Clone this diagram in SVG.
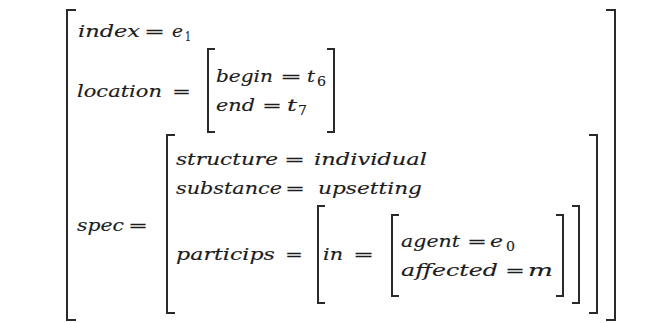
<svg xmlns="http://www.w3.org/2000/svg" width="667" height="323" viewBox="0 0 667 323">
<style>
text{font-family:"DejaVu Serif","Liberation Serif",serif;fill:#1c1c1c;stroke:#1c1c1c;stroke-width:0.15}
.t{font-size:17.5px;font-style:italic}
.o{font-size:17.5px}
.s{font-size:12px}
.b{fill:none;stroke:#2a2a2a;stroke-width:2}
</style>
<rect width="667" height="323" fill="#fff"/>
<g id="brackets">
<path class="b" d="M76 10H67V320H76"/>
<path class="b" d="M606 10H615V320H606"/>
<path class="b" d="M215 49H208V132H215"/>
<path class="b" d="M327 49H334V132H327"/>
<path class="b" d="M175 135H167V313H175"/>
<path class="b" d="M589 135H597V313H589"/>
<path class="b" d="M325 206H318V303H325"/>
<path class="b" d="M572 206H579V303H572"/>
<path class="b" d="M399 215H392V296H399"/>
<path class="b" d="M556 215H563V296H556"/>
</g>
<g id="index">
<text class="t" x="78" y="37" textLength="62" lengthAdjust="spacingAndGlyphs">index</text>
<text class="o" x="144" y="37" textLength="21" lengthAdjust="spacingAndGlyphs">=</text>
<text class="t" x="172" y="37" textLength="11" lengthAdjust="spacingAndGlyphs">e</text>
<text class="s" x="185" y="41" textLength="6" lengthAdjust="spacingAndGlyphs">1</text>
</g>
<g id="location">
<text class="t" x="77" y="97" textLength="85" lengthAdjust="spacingAndGlyphs">location</text>
<text class="o" x="172" y="97" textLength="19" lengthAdjust="spacingAndGlyphs">=</text>
<text class="t" x="216" y="82" textLength="57" lengthAdjust="spacingAndGlyphs">begin</text>
<text class="o" x="280" y="82" textLength="22" lengthAdjust="spacingAndGlyphs">=</text>
<text class="t" x="307" y="82" textLength="8" lengthAdjust="spacingAndGlyphs">t</text>
<text class="s" x="317" y="86" textLength="9" lengthAdjust="spacingAndGlyphs">6</text>
<text class="t" x="216" y="111" textLength="39" lengthAdjust="spacingAndGlyphs">end</text>
<text class="o" x="262" y="111" textLength="20" lengthAdjust="spacingAndGlyphs">=</text>
<text class="t" x="287" y="111" textLength="10" lengthAdjust="spacingAndGlyphs">t</text>
<text class="s" x="298" y="115" textLength="9" lengthAdjust="spacingAndGlyphs">7</text>
</g>
<g id="spec">
<text class="t" x="77" y="231" textLength="47" lengthAdjust="spacingAndGlyphs">spec</text>
<text class="o" x="128" y="231" textLength="20" lengthAdjust="spacingAndGlyphs">=</text>
<text class="t" x="176" y="165" textLength="102" lengthAdjust="spacingAndGlyphs">structure</text>
<text class="o" x="284" y="165" textLength="21" lengthAdjust="spacingAndGlyphs">=</text>
<text class="t" x="314" y="165" textLength="113" lengthAdjust="spacingAndGlyphs">individual</text>
<text class="t" x="176" y="194" textLength="106" lengthAdjust="spacingAndGlyphs">substance</text>
<text class="o" x="285" y="194" textLength="20" lengthAdjust="spacingAndGlyphs">=</text>
<text class="t" x="318" y="194" textLength="104" lengthAdjust="spacingAndGlyphs">upsetting</text>
</g>
<g id="particips">
<text class="t" x="176" y="260" textLength="99" lengthAdjust="spacingAndGlyphs">particips</text>
<text class="o" x="285" y="260" textLength="18" lengthAdjust="spacingAndGlyphs">=</text>
<text class="t" x="323" y="260" textLength="20" lengthAdjust="spacingAndGlyphs">in</text>
<text class="o" x="353" y="260" textLength="21" lengthAdjust="spacingAndGlyphs">=</text>
<text class="t" x="401" y="247" textLength="59" lengthAdjust="spacingAndGlyphs">agent</text>
<text class="o" x="467" y="247" textLength="20" lengthAdjust="spacingAndGlyphs">=</text>
<text class="t" x="490" y="247" textLength="13" lengthAdjust="spacingAndGlyphs">e</text>
<text class="s" x="506" y="251" textLength="9" lengthAdjust="spacingAndGlyphs">0</text>
<text class="t" x="401" y="276" textLength="97" lengthAdjust="spacingAndGlyphs">affected</text>
<text class="o" x="505" y="276" textLength="20" lengthAdjust="spacingAndGlyphs">=</text>
<text class="t" x="528" y="276" textLength="25" lengthAdjust="spacingAndGlyphs">m</text>
</g>
</svg>
